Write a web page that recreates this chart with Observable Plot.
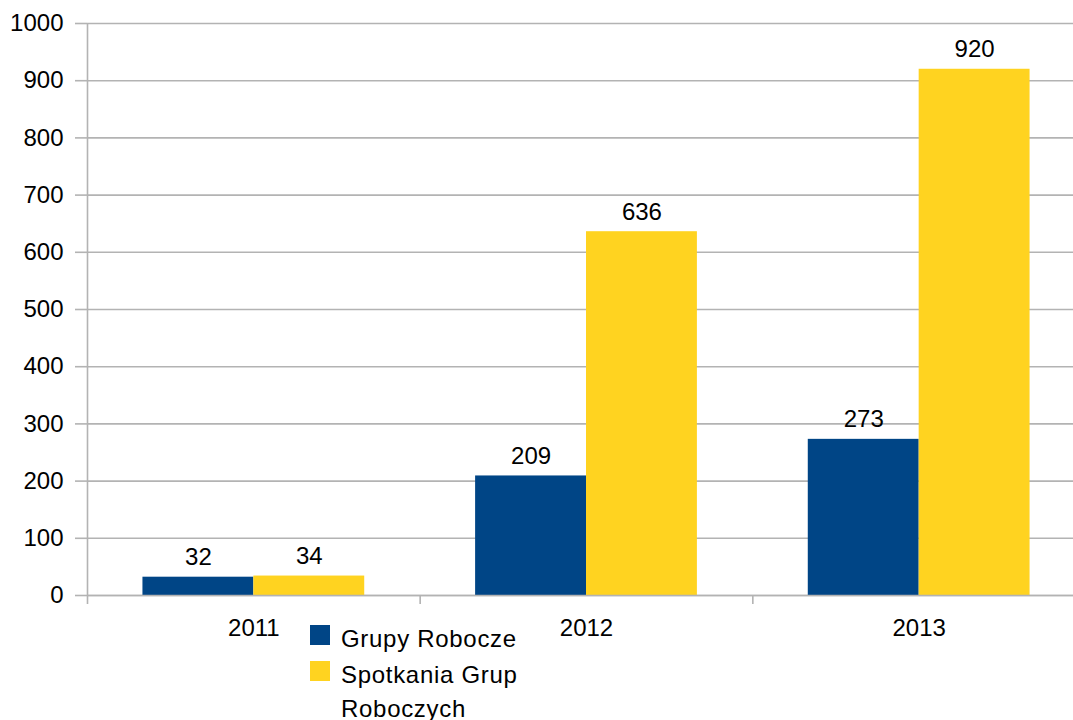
<!DOCTYPE html>
<html>
<head>
<meta charset="utf-8">
<script src="https://cdn.jsdelivr.net/npm/d3@7"></script>
<script src="https://cdn.jsdelivr.net/npm/@observablehq/plot@0.6"></script>
<style>
  html, body { margin: 0; padding: 0; background: #fff; overflow: hidden; }
  #wrap { position: relative; width: 1073px; height: 720px; font-family: "Liberation Sans", Arial, sans-serif; }
  #legend { position: absolute; left: 310px; top: 622px; }
  .item { display: flex; align-items: flex-start; margin-bottom: 2px; }
  .sw { width: 20px; height: 20px; margin-top: 3px; margin-right: 11px; flex: none; }
  .lab { font-size: 24px; line-height: 34px; letter-spacing: 0.7px; width: 190px; color: #000; }
</style>
</head>
<body>
<div id="wrap"><div id="chart"></div><div id="legend"></div></div>
<script>
const years = [2011, 2012, 2013];
const seriesNames = ["Grupy Robocze", "Spotkania Grup Roboczych"];
const grupyRobocze = [32, 209, 273];
const spotkaniaGrup = [34, 636, 920];
const yTicks = [0, 100, 200, 300, 400, 500, 600, 700, 800, 900, 1000];
const colors = ["#004586", "#ffd320"];

const grid = "#b3b3b3";
const half = 1 / 3; // each bar spans a third of a year slot

const table = [];
years.forEach((yr, i) => {
  table.push({year: yr, series: seriesNames[0], value: grupyRobocze[i], x1: yr - half, x2: yr});
  table.push({year: yr, series: seriesNames[1], value: spotkaniaGrup[i], x1: yr, x2: yr + half});
});
const boundaries = [years[0] - 0.5, ...years.map(y => y + 0.5)];

const chart = Plot.plot({
  width: 1073,
  height: 660,
  marginLeft: 87,
  marginRight: 0,
  marginTop: 23,
  marginBottom: 65,
  style: {fontFamily: '"Liberation Sans", Arial, sans-serif', fontSize: "24px", color: "#000", background: "#fff"},
  x: {domain: [boundaries[0], boundaries[boundaries.length - 1]], range: [87, 1085]},
  y: {domain: [0, 1000]},
  color: {domain: seriesNames, range: colors},
  marks: [
    Plot.gridY(yTicks, {stroke: grid, strokeOpacity: 1, strokeWidth: 1.6}),
    Plot.axisY(yTicks, {tickSize: 12, tickPadding: 12, stroke: grid, strokeWidth: 1.6, fill: "#000", fontSize: 24, label: null, tickFormat: d => String(d)}),
    Plot.rectY(table, {x1: "x1", x2: "x2", y: "value", fill: "series"}),
    Plot.ruleY([0], {stroke: grid, strokeWidth: 1.6}),
    Plot.ruleX([boundaries[0]], {stroke: grid, strokeWidth: 1.6}),
    Plot.axisX(boundaries, {tickSize: 9, tickFormat: () => "", stroke: grid, strokeWidth: 1.6, label: null}),
    Plot.axisX(years, {tickSize: 0, tickPadding: 23, tickFormat: d => String(d), fill: "#000", fontSize: 24, label: null}),
    Plot.text(table, {x: d => (d.x1 + d.x2) / 2, y: "value", text: d => String(d.value), lineAnchor: "bottom", dy: -12, fontSize: 24, fill: "#000"})
  ]
});
document.getElementById("chart").appendChild(chart);

const legend = document.getElementById("legend");
seriesNames.forEach((name, i) => {
  const item = document.createElement("div");
  item.className = "item";
  const sw = document.createElement("div");
  sw.className = "sw";
  sw.style.background = colors[i];
  const lab = document.createElement("div");
  lab.className = "lab";
  lab.textContent = name;
  item.appendChild(sw);
  item.appendChild(lab);
  legend.appendChild(item);
});
</script>
</body>
</html>
